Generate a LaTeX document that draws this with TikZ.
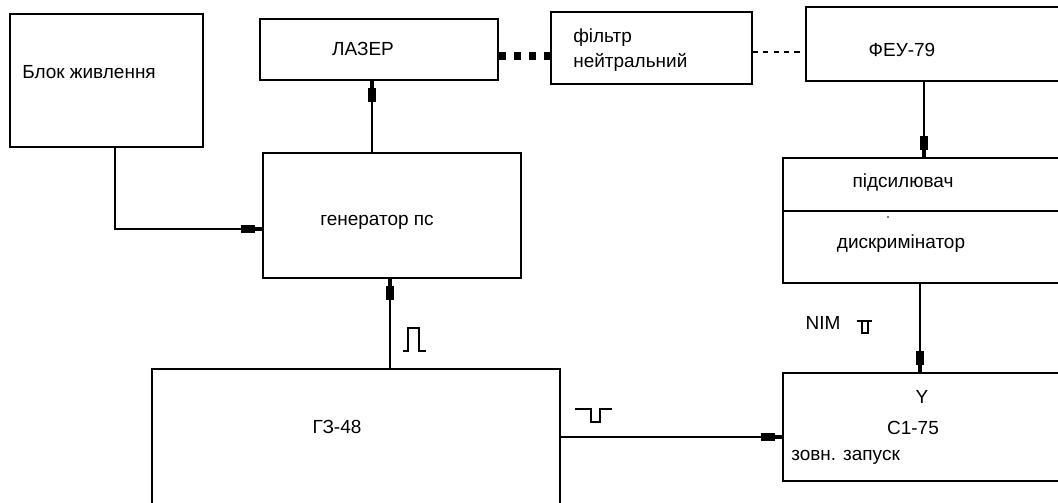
\documentclass[tikz,border=0pt]{standalone}
\usepackage{fontspec}
\setmainfont{Liberation Sans}
\usetikzlibrary{arrows.meta, fit, positioning}

\tikzset{
  blok/.style={draw, line width=1.1pt, inner sep=0pt},
  link/.style={line width=1.1pt,
    -{Rectangle[length=10pt,width=5.5pt]Rectangle[length=5pt,width=2.6pt]}},
  pulse/.style={line width=0.8pt},
  lbl/.style={inner sep=0pt}
}

\begin{document}
\begin{tikzpicture}[x=0.025cm, y=-0.025cm, font=\fontsize{13.5}{17.7}\selectfont]

\useasboundingbox (0,0) rectangle (1058,502);

% blocks
\node[blok, fit={(10,14) (203,147)}]    (zhyv)  {};
\node[blok, fit={(260,19) (498,80)}]    (laser) {};
\node[blok, fit={(551,12) (752,84)}]    (filtr) {};
\node[blok, fit={(806,7) (1070,81)}]    (feu)   {};
\node[blok, fit={(263,153) (521,278)}]  (gen)   {};
\node[blok, fit={(783,158) (1070,211)}] (pids)  {};
\node[blok, fit={(783,211) (1070,283)}] (dysk)  {};
\node[blok, fit={(152,369) (560,510)}]  (gz)    {};
\node[blok, fit={(783,373) (1070,481)}] (osc)   {};

\node[lbl, anchor=west] (tzhyv) at (22,72) {Блок живлення};
\node[lbl] (tlaser) at (363,49) {ЛАЗЕР};
\node[lbl, anchor=west, align=left] (tfiltr) at (573,50) {фільтр\\нейтральний};
\node[lbl] (tfeu) at (902,50) {ФЕУ-79};
\node[lbl] (tgen) at (377,222) {генератор пс};
\node[lbl] (tpids) at (903,183) {підсилювач};
\node[lbl] (tdysk) at (901,244) {дискримінатор};
\node[lbl] (tnim) at (823,323) {NIM};
\node[lbl] (ty) at (922,397) {Y};
\node[lbl] (tosc) at (913,428) {С1-75};
\node[lbl, anchor=west] (tzovn) at (791,457) {зовн. запуск};
\node[lbl] (tgz) at (337,427) {ГЗ-48};
\fill (888,217) circle (0.6pt);

% links
\draw[link] (zhyv.south -| 115,0) |- (gen.west |- 0,229);
\draw[link] (gen.north -| 372,0) -- (laser.south -| 372,0);
\draw[link] (gz.north -| 390,0) -- (gen.south -| 390,0);
\draw[link] (feu.south -| 924,0) -- (pids.north -| 924,0);
\draw[link] (dysk.south -| 920,0) -- (osc.north -| 920,0);
\draw[link] (gz.east |- 0,437) -- (osc.west |- 0,437);

% optical path
\draw[line width=5.5pt, dash pattern=on 0.175cm off 0.2cm]
  (laser.east |- 0,56) -- (filtr.west |- 0,56);
\draw[line width=0.8pt, dash pattern=on 0.13cm off 0.13cm]
  (filtr.east |- 0,52) -- (feu.west |- 0,52);

% pulses
\draw[pulse] (403,351) -- (408,351) -- (408,328) -- (419,328) -- (419,351) -- (426,351);
\draw[pulse] (575,409) -- (591,409) -- (591,422) -- (600,422) -- (600,409) -- (612,409);
\draw[line width=1.1pt] (857,321) -- (872,321) (862,321) -- (862,333) -- (868,333) -- (868,321);

\end{tikzpicture}
\end{document}
